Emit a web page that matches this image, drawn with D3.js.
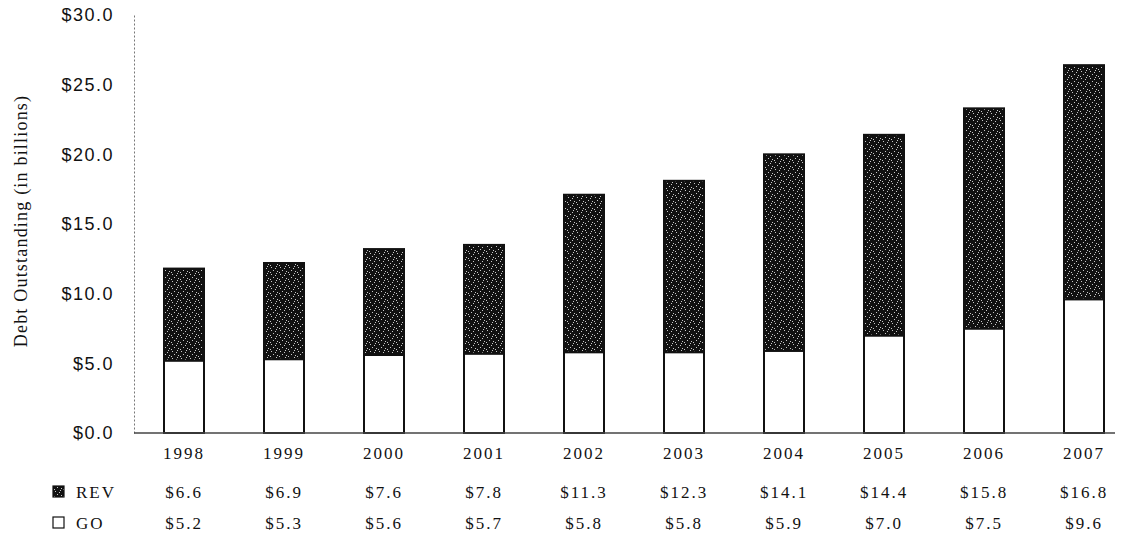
<!DOCTYPE html>
<html>
<head>
<meta charset="utf-8">
<script src="https://cdn.jsdelivr.net/npm/d3@7/dist/d3.min.js"></script>
<style>
  body { margin: 0; background: #fff; }
</style>
</head>
<body>
<div id="chart"></div>
<script>
const years = ["1998", "1999", "2000", "2001", "2002", "2003", "2004", "2005", "2006", "2007"];
const rev = [6.6, 6.9, 7.6, 7.8, 11.3, 12.3, 14.1, 14.4, 15.8, 16.8];
const go = [5.2, 5.3, 5.6, 5.7, 5.8, 5.8, 5.9, 7.0, 7.5, 9.6];
const yTicks = [0, 5, 10, 15, 20, 25, 30];

const width = 1123;
const height = 538;
const marginLeft = 134;
const marginTop = 15;
const plotBottom = 433;
const serif = "Liberation Serif, Times New Roman, serif";

const svg = d3.select("#chart").append("svg")
    .attr("width", width)
    .attr("height", height)
    .attr("viewBox", [0, 0, width, height]);

// speckled dark texture for the REV bars
const defs = svg.append("defs");
const pat = defs.append("pattern")
    .attr("id", "speckle")
    .attr("patternUnits", "userSpaceOnUse")
    .attr("width", 9).attr("height", 7);
pat.append("rect").attr("width", 9).attr("height", 7).attr("fill", "#111");
[[1, 1], [5, 2], [3, 4], [7, 5], [0, 6], [6, 0]].forEach(([px, py]) => {
    pat.append("rect").attr("x", px).attr("y", py).attr("width", 1).attr("height", 1)
        .attr("fill", "#c8c8c8");
});

const x = d3.scaleBand()
    .domain(years)
    .range([marginLeft, marginLeft + 1000])
    .paddingInner(0.6)
    .paddingOuter(0.3);

const y = d3.scaleLinear()
    .domain([0, 30])
    .range([plotBottom, marginTop]);

// y axis (dotted line, labels on the left)
svg.append("g")
    .attr("transform", `translate(${marginLeft},0)`)
    .call(d3.axisLeft(y).tickValues(yTicks).tickSize(0).tickPadding(20)
        .tickFormat(d => "$" + d3.format(".1f")(d)))
    .call(g => g.select(".domain").attr("stroke", "#777").attr("stroke-dasharray", "2,2"))
    .call(g => g.selectAll("text")
        .attr("font-family", "Liberation Sans, Arial, sans-serif")
        .attr("font-size", 18)
        .attr("letter-spacing", 1.5)
        .attr("fill", "#111"));

// axis title
svg.append("text")
    .attr("transform", `translate(27,${(90 + 352) / 2}) rotate(-90)`)
    .attr("text-anchor", "middle")
    .attr("font-family", serif)
    .attr("font-size", 18)
    .attr("letter-spacing", 1.2)
    .attr("fill", "#111")
    .text("Debt Outstanding (in billions)");

// GO bars (white)
svg.append("g")
    .selectAll("rect")
    .data(years)
    .join("rect")
    .attr("x", d => x(d))
    .attr("width", x.bandwidth())
    .attr("y", (d, i) => y(go[i]))
    .attr("height", (d, i) => y(0) - y(go[i]))
    .attr("fill", "#fff")
    .attr("stroke", "#111")
    .attr("stroke-width", 2);

// REV bars (dark, stacked on GO)
svg.append("g")
    .selectAll("rect")
    .data(years)
    .join("rect")
    .attr("x", d => x(d))
    .attr("width", x.bandwidth())
    .attr("y", (d, i) => y(go[i] + rev[i]))
    .attr("height", (d, i) => y(go[i]) - y(go[i] + rev[i]))
    .attr("fill", "url(#speckle)")
    .attr("stroke", "#111")
    .attr("stroke-width", 2);

// x axis baseline and year labels
svg.append("g")
    .attr("transform", `translate(0,${plotBottom})`)
    .call(d3.axisBottom(x).tickSize(0).tickPadding(14))
    .call(g => g.select(".domain").attr("d", `M${marginLeft},0H1115`).attr("stroke", "#444").attr("stroke-width", 1.5))
    .call(g => g.selectAll("text")
        .attr("font-family", serif)
        .attr("font-size", 17)
        .attr("letter-spacing", 2)
        .attr("fill", "#111"));

// data table rows
const rows = [
    { name: "REV", values: rev, fill: "url(#speckle)", yPos: 498 },
    { name: "GO", values: go, fill: "#fff", yPos: 529 }
];

rows.forEach(r => {
    svg.append("rect")
        .attr("x", 53).attr("y", r.yPos - 12)
        .attr("width", 11).attr("height", 11)
        .attr("fill", r.fill)
        .attr("stroke", "#111").attr("stroke-width", 1.2);
    svg.append("text")
        .attr("x", 76).attr("y", r.yPos)
        .attr("font-family", serif)
        .attr("font-size", 17)
        .attr("letter-spacing", 2)
        .attr("fill", "#111")
        .text(r.name);
    svg.append("g")
        .selectAll("text")
        .data(years)
        .join("text")
        .attr("x", d => x(d) + x.bandwidth() / 2)
        .attr("y", r.yPos)
        .attr("text-anchor", "middle")
        .attr("font-family", serif)
        .attr("font-size", 17)
        .attr("letter-spacing", 2)
        .attr("fill", "#111")
        .text((d, i) => "$" + d3.format(".1f")(r.values[i]));
});
</script>
</body>
</html>
